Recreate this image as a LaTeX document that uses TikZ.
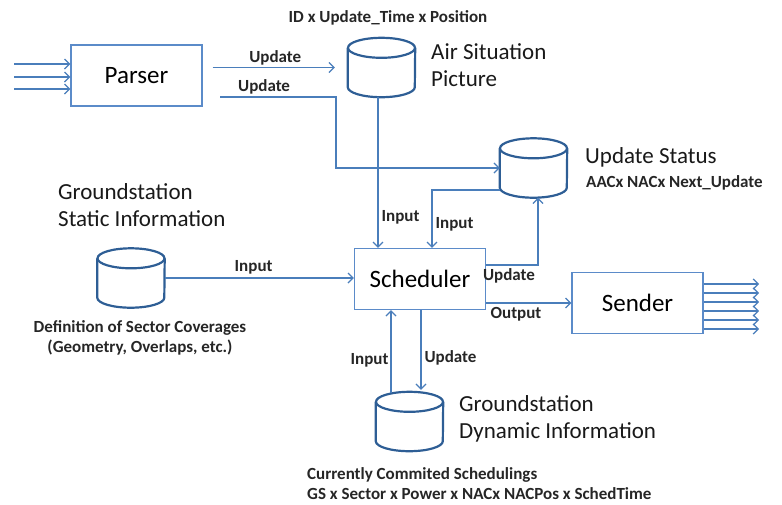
\documentclass[tikz,border=0pt]{standalone}
\usepackage{fontspec}
\setmainfont{Carlito}
\usepackage{tikz}
\usetikzlibrary{shapes}
\usetikzlibrary{calc,arrows.meta}
\definecolor{linkblue}{HTML}{4A7EBB}
\definecolor{storeblue}{HTML}{2E5E95}
\definecolor{boxblue}{HTML}{5B8BC9}
\tikzstyle{block}=[draw=boxblue, line width=1.3pt, minimum width=131pt, minimum height=61pt, inner sep=0pt, font=\fontsize{25}{28}\selectfont]
\tikzstyle{store}=[minimum width=67pt, minimum height=59pt, inner sep=0pt]
\tikzstyle{drumline}=[draw=storeblue, line width=2.2pt]
\tikzstyle{flow}=[draw=linkblue, line width=1.2pt, -{Straight Barb[length=5pt,width=10pt]}]
\tikzstyle{lbl}=[font=\bfseries\fontsize{17}{19}\selectfont, text=black!85, inner sep=1pt]
\tikzstyle{title}=[font=\fontsize{23}{27}\selectfont, align=left, anchor=west, text=black!90, inner sep=0pt]
\tikzstyle{note}=[font=\bfseries\fontsize{17}{19.5}\selectfont, align=left, text=black!85, inner sep=0pt]
\newcommand{\drum}[1]{%
	\draw[drumline] ([yshift=-10pt]#1.north) ellipse[x radius=33.5pt, y radius=10pt];
	\draw[drumline] ([yshift=-10pt]#1.north west) -- ([yshift=10pt]#1.south west)
		arc[start angle=180, end angle=360, x radius=33.5pt, y radius=10pt]
		-- ([yshift=-10pt]#1.north east);
}

\begin{document}
\begin{tikzpicture}[x=1pt,y=-1pt]
\useasboundingbox (0,0) rectangle (782,504);

\node[block] (parser) at (136.5,75.5) {Parser};
\node[block] (sched) at (420,279) {Scheduler};
\node[block] (sender) at (637.5,303) {Sender};

\node[store] (asp) at (381.5,67.5) {};
\node[store] (upd) at (533.5,168) {};
\node[store] (gss) at (131,278) {};
\node[store] (gsd) at (409.5,421.5) {};
\foreach \s in {asp,upd,gss,gsd} {
	\drum{\s}
}

\node[title] (asptxt) at (431,65.5) {Air Situation\\Picture};
\node[title] (updtxt) at (585,157) {Update Status};
\node[title] (gsstxt) at (58,205.5) {Groundstation\\Static Information};
\node[title] (gsdtxt) at (459,418.5) {Groundstation\\Dynamic Information};

\node[lbl] (aspattr) at (388,18) {ID x Update\_Time x Position};
\node[lbl, anchor=west] (updattr) at (585,183) {AACx NACx Next\_Update};
\node[note, align=center] (gssattr) at (140,338) {Definition of Sector Coverages\\(Geometry, Overlaps, etc.)};
\node[note, anchor=west] (gsdattr) at (307,483.5) {Currently Commited Schedulings\\GS x Sector x Power x NACx NACPos x SchedTime};

\foreach \y in {64,77,89} {
	\coordinate (feed\y) at (14,\y);
	\draw[flow] (feed\y) -- (feed\y -| parser.west);
}
\foreach \n in {0,...,5} {
	\coordinate (out\n) at (759,284+9*\n);
	\draw[flow] (out\n -| sender.east) -- (out\n);
}

\draw[flow, shorten <=10pt, shorten >=13pt] (asp.west -| parser.east) -- node[lbl, above=1pt] (l1) {Update} (asp.west);
\coordinate (upd0) at (220,97);
\coordinate (upd1) at (336,97);
\draw[flow] (upd0) -- node[lbl, above=1pt, pos=0.38] (l2) {Update} (upd1) |- (upd.west);
\draw[flow] ([xshift=-3.5pt]asp.south) -- node[lbl, pos=0.8, right=2pt] (l3) {Input} ([xshift=-3.5pt]asp.south |- sched.north);
\draw[flow] ([yshift=-22pt]upd.west) -| node[lbl, pos=0.8, right=2pt] (l4) {Input} ([xshift=12pt]sched.north);
\draw[flow] ([yshift=14pt]sched.east) -| node[lbl, pos=0.22, below=2pt] (l5) {Update} ([xshift=4.5pt]upd.south);
\draw[flow] (sched.east |- sender.west) -- node[lbl, pos=0.35, below=3pt] (l6) {Output} (sender.west);
\draw[flow] (gss.east) -- node[lbl, pos=0.47, above=2pt] (l7) {Input} (gss.east -| sched.west);
\draw[flow] ([xshift=-18.5pt,yshift=-1.5pt]gsd.north) -- node[lbl, pos=0.4, left=1pt] (l8) {Input} ([xshift=-18.5pt]gsd.north |- sched.south);
\draw[flow] ([xshift=1pt]sched.south) -- node[lbl, pos=0.6, right=2pt] (l9) {Update} ([xshift=11.5pt,yshift=2pt]gsd.north);
\end{tikzpicture}
\end{document}
